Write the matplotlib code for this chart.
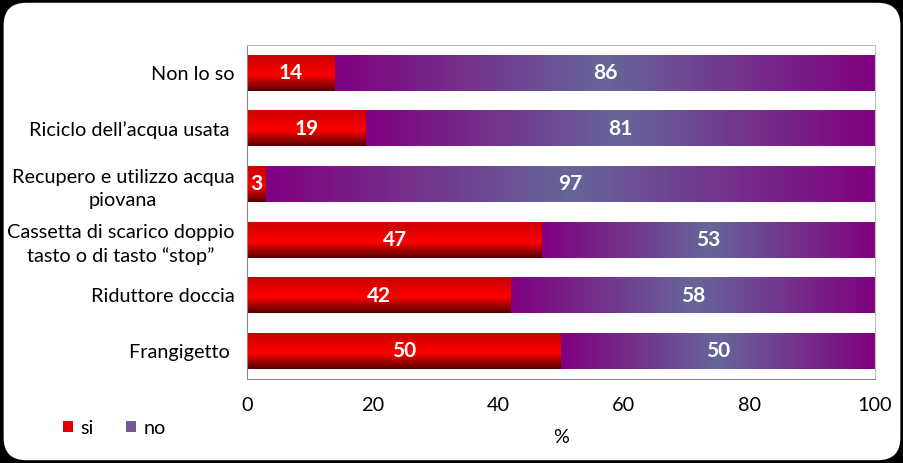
import matplotlib
matplotlib.use("Agg")
import matplotlib.pyplot as plt
import numpy as np
from matplotlib.colors import LinearSegmentedColormap
from matplotlib.patches import FancyBboxPatch, Patch

categories = ["Non lo so", "Riciclo dell\u2019acqua usata ", "Recupero e utilizzo acqua\npiovana",
              "Cassetta di scarico doppio\ntasto o di tasto \u201cstop\u201d", "Riduttore doccia", "Frangigetto "]
si = [14, 19, 3, 47, 42, 50]
no = [86, 81, 97, 53, 58, 50]
xticks = [0, 20, 40, 60, 80, 100]

plt.rcParams["font.family"] = ["Lato", "DejaVu Sans"]

red_cmap = LinearSegmentedColormap.from_list(
    "red", [(0, "#c80000"), (0.55, "#ff0000"), (1, "#520000")])
purple_cmap = LinearSegmentedColormap.from_list(
    "purple", [(0, "#800080"), (0.5, "#666699"), (1, "#800080")])

fig = plt.figure(figsize=(9.04, 4.63), dpi=100, facecolor="black")
# rounded white card on a black background
fig.patches.append(FancyBboxPatch((0.004, 0.006), 0.992, 0.988,
                                  boxstyle="round,pad=0,rounding_size=0.025",
                                  transform=fig.transFigure, facecolor="white",
                                  edgecolor="none", zorder=-5, mutation_aspect=904 / 463))
ax = fig.add_axes([247 / 904, 1 - 379 / 463, 628 / 904, 334 / 463])
ax.set_facecolor("white")

y = np.arange(len(categories))
b1 = ax.barh(y, si, height=0.64, color="none")
b2 = ax.barh(y, no, left=si, height=0.64, color="none")

vgrad = np.linspace(0, 1, 256).reshape(-1, 1)
hgrad = np.linspace(0, 1, 256).reshape(1, -1)
for p in b1.patches:
    x0, y0, w, h = p.get_x(), p.get_y(), p.get_width(), p.get_height()
    # y axis is inverted: extent top = y0 (visually top)
    ax.imshow(vgrad, cmap=red_cmap, aspect="auto", extent=[x0, x0 + w, y0 + h, y0],
              zorder=2, interpolation="bilinear")
for p in b2.patches:
    x0, y0, w, h = p.get_x(), p.get_y(), p.get_width(), p.get_height()
    ax.imshow(hgrad, cmap=purple_cmap, aspect="auto", extent=[x0, x0 + w, y0 + h, y0],
              zorder=2, interpolation="bilinear")

for i in range(len(categories)):
    ax.text(si[i] / 2, y[i], str(si[i]), color="white", fontweight="bold",
            fontsize=15, ha="center", va="center", zorder=3)
    ax.text(si[i] + no[i] / 2, y[i], str(no[i]), color="white", fontweight="bold",
            fontsize=15, ha="center", va="center", zorder=3)

ax.set_xlim(0, 100)
ax.set_ylim(len(categories) - 0.5, -0.5)
ax.set_yticks(y)
ax.set_yticklabels(categories, fontsize=14.3)
for t in ax.get_yticklabels():
    t.set_multialignment("center")
    t.set_linespacing(1.45)
ax.set_xticks(xticks)
ax.set_xticklabels([str(v) for v in xticks], fontsize=14.3)
ax.tick_params(length=0, pad=9)
ax.tick_params(axis="x", pad=13)
ax.set_xlabel("%", fontsize=14.3, labelpad=11)
for s in ["top", "right"]:
    ax.spines[s].set_color("#c0c0c0")
for s in ["left", "bottom"]:
    ax.spines[s].set_color("#888888")

handles = [Patch(facecolor="#e00000", label="si"), Patch(facecolor="#735a95", label="no")]
fig.legend(handles=handles, loc="center left", bbox_to_anchor=(45 / 904, 1 - 428 / 463),
           ncol=2, frameon=False, fontsize=14.3, handlelength=0.5, handleheight=0.5,
           handletextpad=0.4, columnspacing=1.6)

fig.savefig("out.png", dpi=100, facecolor="black")
